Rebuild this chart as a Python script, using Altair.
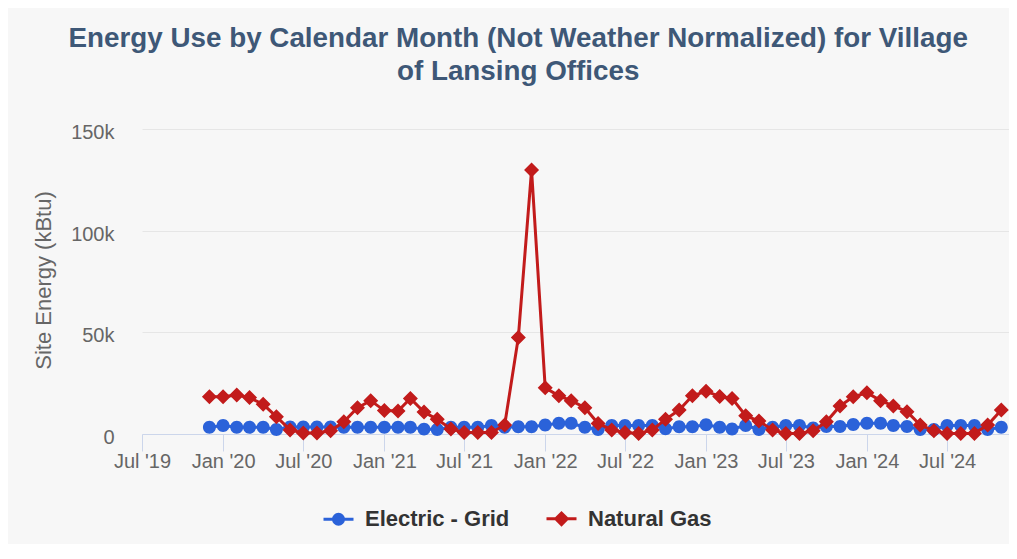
import altair as alt
import pandas as pd

FONT = "Liberation Sans"

# Months: Dec 2019 .. Nov 2024
months = pd.date_range("2019-12-01", periods=60, freq="MS").strftime("%Y-%m-%dT00:00:00").tolist()

series_names = ["Electric - Grid", "Natural Gas"]
series_colors = ["#2b62d9", "#c21b1b"]

# Site energy (kBtu)
electric = [
    3300,
    4200, 3300, 3300, 3300, 2200, 3500, 3500, 3500, 3500, 3300, 3300, 3300,
    3300, 3300, 3300, 2400, 2200, 3300, 3300, 3300, 4200, 3300, 3600, 3600,
    4400, 5300, 5300, 3300, 2200, 4200, 4200, 4200, 4200, 2600, 3600, 3600,
    4500, 3300, 2500, 4200, 2200, 3300, 4200, 4200, 3000, 3700, 3700, 4700,
    5300, 5300, 4200, 3700, 2200, 2200, 4200, 4200, 4200, 2200, 3300,
]
gas = [
    18300,
    18300, 19200, 17900, 14600, 8500, 2000, 500, 500, 1600, 6000, 12900, 16400,
    11500, 11300, 17500, 10800, 7200, 2500, 700, 700, 700, 4400, 47500, 129800,
    22700, 18800, 16400, 12900, 5200, 2000, 700, 300, 2000, 7200, 11800, 18800,
    21000, 18500, 17500, 9000, 6400, 2000, 300, 300, 1600, 6000, 13800, 18300,
    20300, 16400, 13800, 11000, 4400, 1600, 300, 300, 300, 4400, 11800,
]

# marker shapes: a horizontal legend stroke (unfilled, invisible on the plot) plus the marker
circle_path = "M-1,0L1,0M-0.333,0A0.333,0.333,0,1,0,0.333,0A0.333,0.333,0,1,0,-0.333,0Z"
diamond_path = "M-1,0L1,0M-0.385,0L0,-0.385L0.385,0L0,0.385Z"
series_shapes = [circle_path, diamond_path]

x_ticks = [alt.DateTime(year=y, month=m, date=1) for y in range(2019, 2025) for m in (1, 7)
           if not (y == 2019 and m == 1)]

df = pd.DataFrame({
    "date": months + months,
    "value": electric + gas,
    "series": [series_names[0]] * len(months) + [series_names[1]] * len(months),
})

legend = alt.Legend(
    title=None, orient="none", legendX=180, legendY=373, direction="horizontal",
    symbolSize=900, symbolStrokeWidth=3, labelFont=FONT, labelFontSize=22,
    labelFontWeight="bold", labelColor="#333333", labelOffset=10, columnPadding=30,
    padding=0,
)

x_enc = alt.X(
    "date:T",
    scale=alt.Scale(domain=[alt.DateTime(year=2019, month=7, date=1),
                            alt.DateTime(year=2024, month=11, date=23)]),
    axis=alt.Axis(
        values=x_ticks, format="%b '%y", title=None, labelFont=FONT, labelFontSize=20,
        labelColor="#666666", labelBaseline="alphabetic", labelPadding=16, labelAngle=0,
        labelFlush=False, labelOverlap=False, tickSize=17, tickColor="#ccd6eb", tickWidth=1,
        domainColor="#ccd6eb", domainWidth=1, grid=False,
    ),
)
y_enc = alt.Y(
    "value:Q",
    scale=alt.Scale(domain=[0, 150000], nice=False),
    axis=alt.Axis(
        values=[0, 50000, 100000, 150000], format="~s",
        labelExpr="datum.value === 0 ? '0' : datum.label",
        title="Site Energy (kBtu)",
        titleFont=FONT, titleFontSize=22, titleFontWeight="normal", titleColor="#666666",
        titleAngle=270, titleX=-92, titleY=151, titleBaseline="alphabetic", titleAlign="center",
        labelFont=FONT, labelFontSize=20, labelColor="#666666", labelPadding=28,
        labelBaseline="alphabetic", labelOffset=9.5, labelFlush=False, ticks=False, tickSize=0,
        domain=False, grid=True, gridColor="#e6e6e6", gridWidth=1,
    ),
)

stroke_enc = alt.Stroke("series:N", scale=alt.Scale(domain=series_names, range=series_colors), legend=legend)
fill_enc = alt.Fill("series:N", scale=alt.Scale(domain=series_names, range=series_colors), legend=legend)
shape_enc = alt.Shape("series:N", scale=alt.Scale(domain=series_names, range=series_shapes), legend=legend)

base = alt.Chart(df)
layers = []
for name in series_names:
    flt = alt.datum.series == name
    layers.append(
        base.transform_filter(flt).mark_line(strokeWidth=3).encode(x=x_enc, y=y_enc, stroke=stroke_enc)
    )
    layers.append(
        base.transform_filter(flt)
        .mark_point(filled=True, size=1521, opacity=1, strokeWidth=3)
        .encode(x=x_enc, y=y_enc, fill=fill_enc, shape=shape_enc)
    )

chart = (
    alt.layer(*layers)
    .properties(
        width=869,
        height=305,
        autosize=alt.AutoSizeParams(type="none"),
        padding={"left": 134, "top": 121, "right": -2, "bottom": 110},
        background="#f7f7f7",
        title=alt.TitleParams(
            text=["Energy Use by Calendar Month (Not Weather Normalized) for Village",
                  "of Lansing Offices"],
            font=FONT, fontSize=27.8, fontWeight="bold", color="#3e5877",
            lineHeight=32.5, anchor="middle", frame="group", dx=-58.3, dy=-33,
        ),
    )
    .configure_view(stroke=None)
)

chart.save("out.html", embed_options={"renderer": "svg", "actions": False})
